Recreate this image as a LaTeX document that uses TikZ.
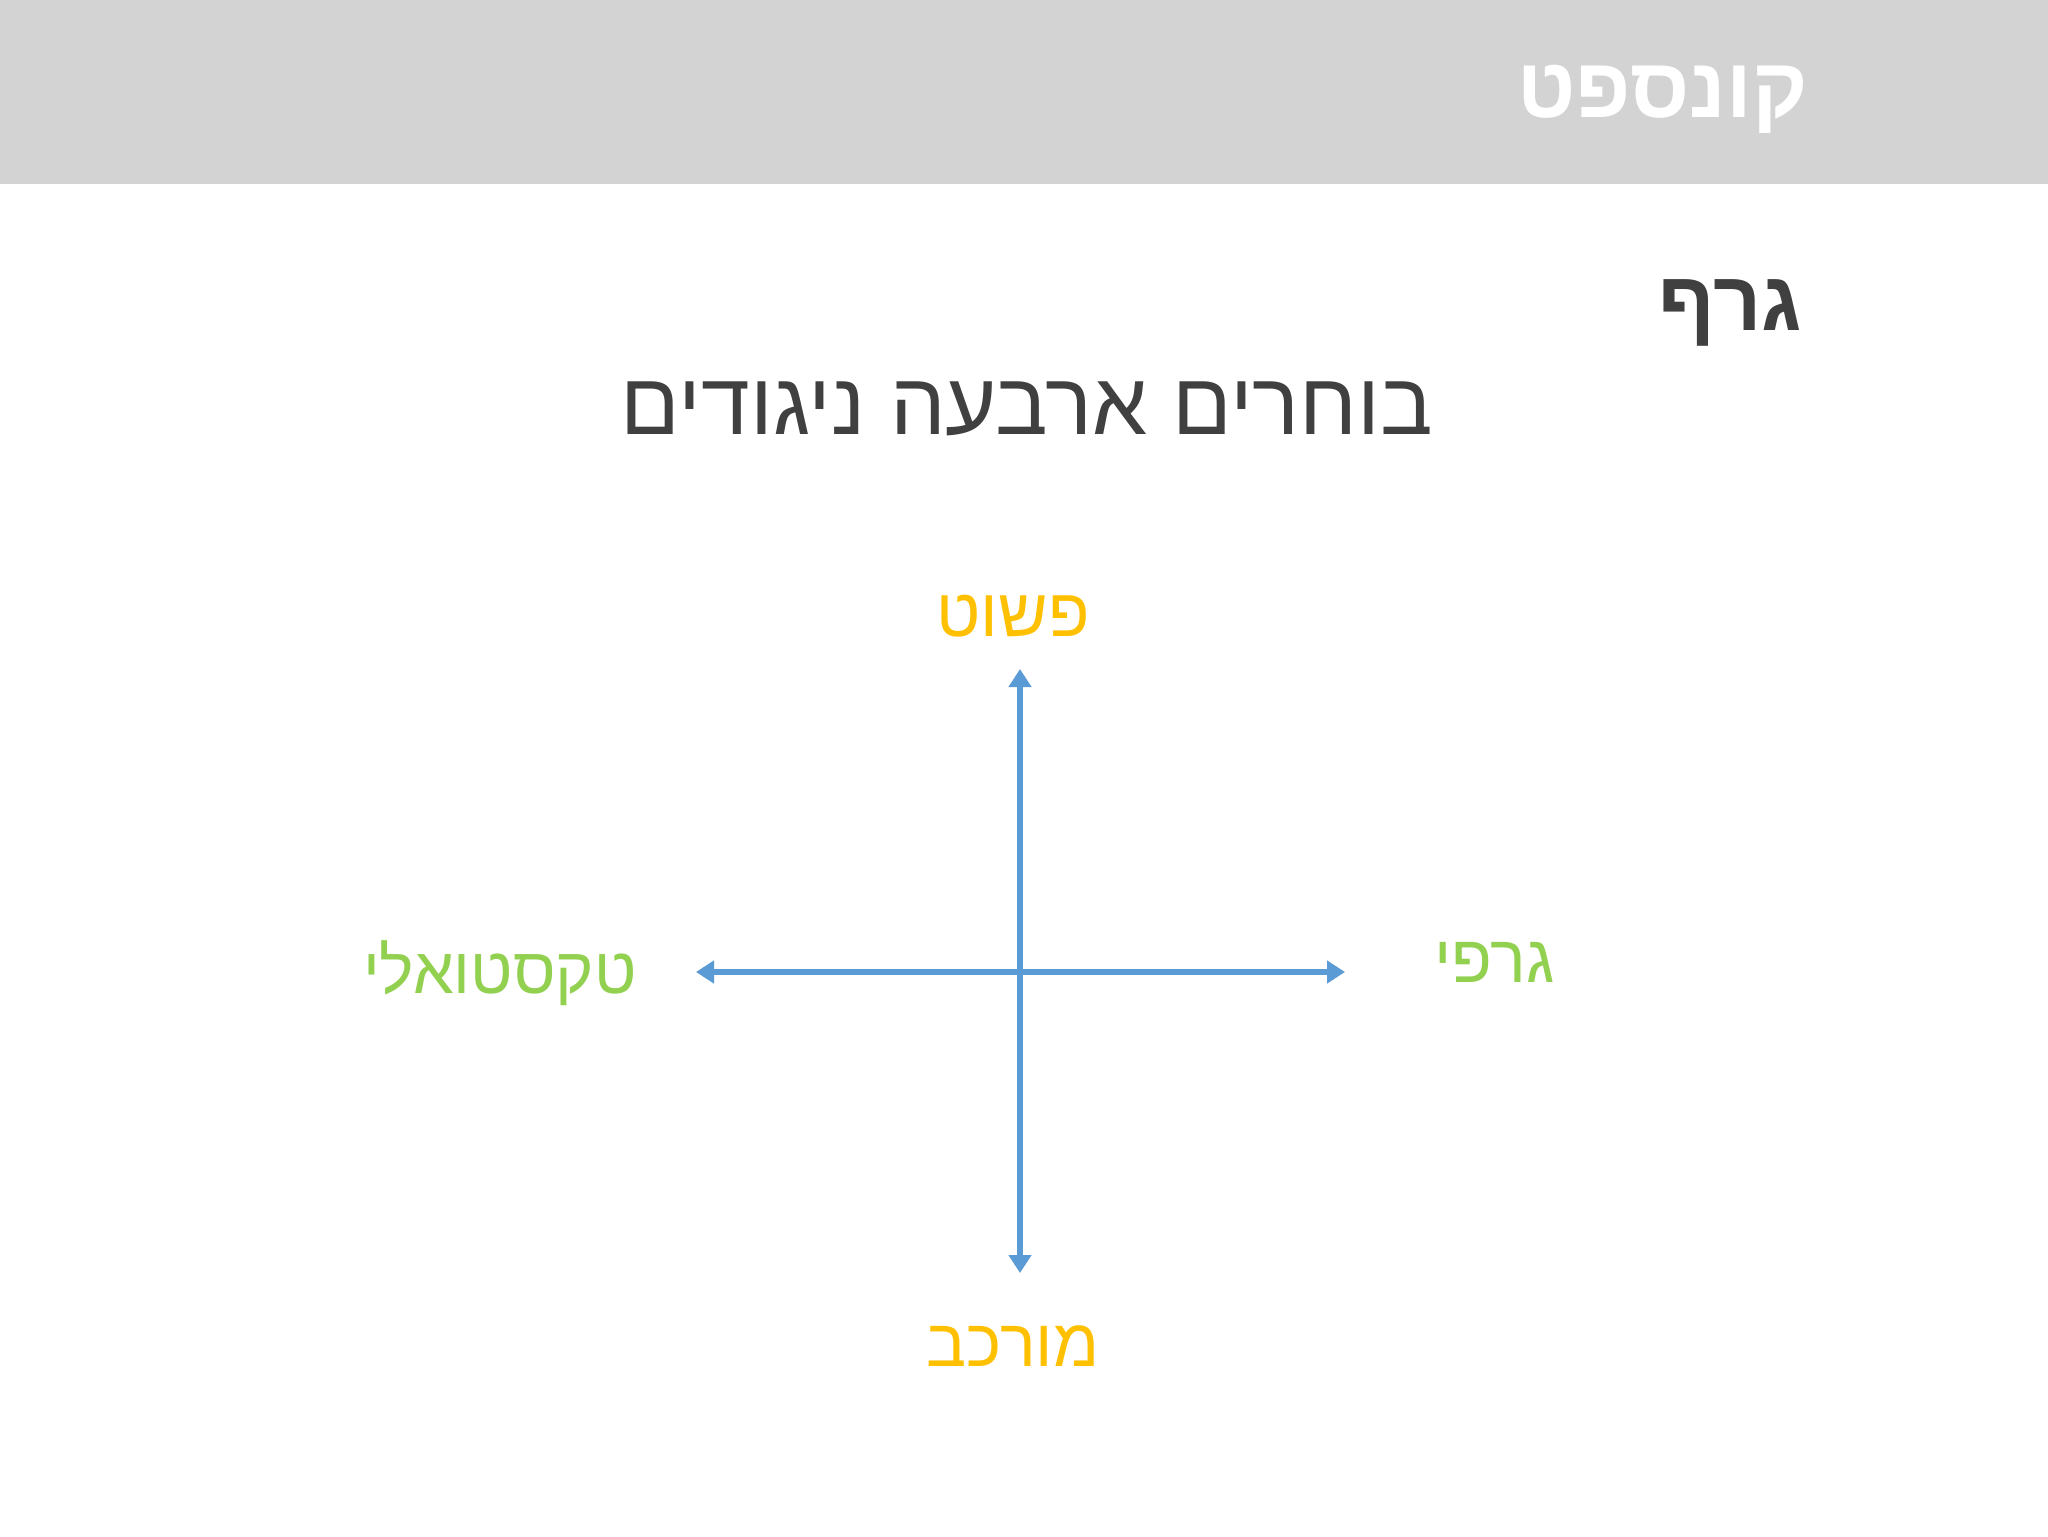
\documentclass[tikz,border=0pt]{standalone}
\usepackage{fontspec}
\usetikzlibrary{arrows.meta}
\TeXXeTstate=1
\newfontfamily\heb[Script=Hebrew]{Liberation Sans}
\definecolor{bandgray}{HTML}{D3D3D3}
\definecolor{darktext}{HTML}{404040}
\definecolor{axisblue}{HTML}{5B9BD5}
\definecolor{labelorange}{HTML}{FFC000}
\definecolor{labelgreen}{HTML}{92D050}
\tikzset{
  axis/.style={draw=axisblue,line width=3pt,{Triangle[width=11pt,length=9pt]}-{Triangle[width=11pt,length=9pt]}},
  lbl/.style={inner sep=0pt,font=\heb}
}
\begin{document}
\begin{tikzpicture}[x=0.5pt,y=-0.5pt]
\useasboundingbox (0,0) rectangle (2048,1536);
\fill[white] (0,0) rectangle (2048,1536);
\fill[bandgray] (0,0) rectangle (2048,184);
\node[lbl,anchor=base east,text=white,font=\heb\bfseries\fontsize{42.5pt}{50pt}\selectfont] (title) at (1808,118) {\beginR קונספט\endR};
\node[lbl,anchor=base east,text=darktext,font=\heb\bfseries\fontsize{42pt}{50pt}\selectfont] (graf) at (1802,330) {\beginR גרף\endR};
\node[lbl,anchor=base,text=darktext,font=\heb\fontsize{44pt}{52pt}\selectfont] (sub) at (1027,434) {\beginR בוחרים ארבעה ניגודים\endR};
\coordinate (top) at (1020,669);
\coordinate (bot) at (1020,1273);
\coordinate (lft) at (696,972);
\coordinate (rgt) at (1345,972);
\draw[axis] (bot) -- (top);
\draw[axis] (lft) -- (rgt);
\node[lbl,anchor=base,text=labelorange,font=\heb\fontsize{34pt}{42pt}\selectfont] (simple) at (1013,636) {\beginR פשוט\endR};
\node[lbl,anchor=base,text=labelorange,font=\heb\fontsize{33.5pt}{42pt}\selectfont] (complex) at (1013,1366) {\beginR מורכב\endR};
\node[lbl,anchor=base east,text=labelgreen,font=\heb\fontsize{32.5pt}{40pt}\selectfont] (textual) at (637,993) {\beginR טקסטואלי\endR};
\node[lbl,anchor=base west,text=labelgreen,font=\heb\fontsize{33.5pt}{40pt}\selectfont] (graphic) at (1434,982) {\beginR גרפי\endR};
\end{tikzpicture}
\end{document}
